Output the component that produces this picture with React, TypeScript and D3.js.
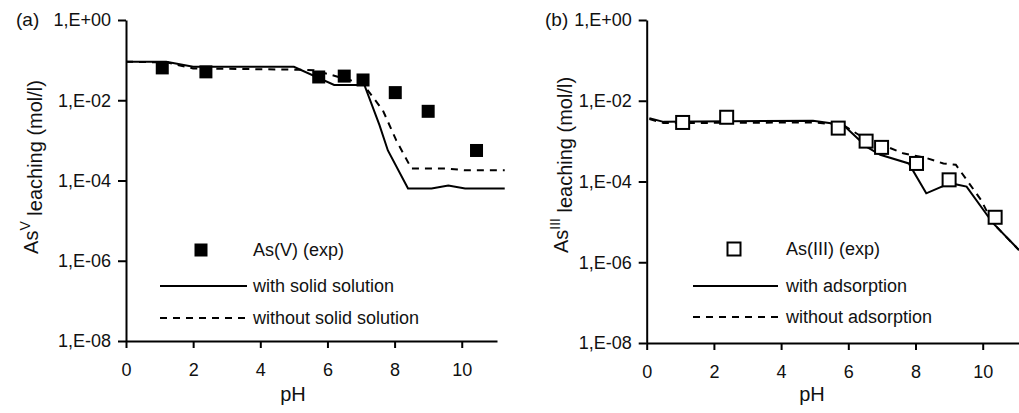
import { useEffect, useRef } from "react";
import * as d3 from "d3";

// panel (a) - As(V)
const phV_exp = [1.08, 2.38, 5.74, 6.5, 7.06, 8.02, 9.0, 10.44];
const asV_exp = [0.064, 0.051, 0.038, 0.04, 0.032, 0.0155, 0.0053, 5.6e-4];
const phV_with = [0, 1.2, 2.0, 5.0, 6.2, 7.1, 7.55, 7.8, 8.4, 9.1, 9.6, 10.1, 11.28];
const asV_with = [0.091, 0.091, 0.068, 0.068, 0.024, 0.024, 0.0024, 5.6e-4, 6.3e-5, 6.3e-5, 7.5e-5, 6.3e-5, 6.3e-5];
const phV_without = [0, 1.2, 2.0, 5.0, 5.6, 7.05, 7.65, 8.05, 8.5, 9.5, 10.1, 10.5, 11.28];
const asV_without = [0.091, 0.088, 0.062, 0.058, 0.056, 0.026, 0.0056, 0.001, 2e-4, 2e-4, 1.8e-4, 1.8e-4, 1.8e-4];

// panel (b) - As(III)
const phIII_exp = [1.07, 2.38, 5.7, 6.53, 6.99, 8.03, 9.0, 10.37];
const asIII_exp = [0.0029, 0.0039, 0.0021, 1.0e-3, 7.0e-4, 2.8e-4, 1.1e-4, 1.3e-5];
const phIII_with = [0.08, 0.5, 4.95, 5.85, 6.55, 6.95, 7.8, 8.32, 9.03, 9.52, 10.3, 11.08];
const asIII_with = [0.0037, 0.003, 0.0032, 0.0025, 7.2e-4, 4.6e-4, 2.8e-4, 5.1e-5, 9.1e-5, 7.5e-5, 9.4e-6, 2.0e-6];
const phIII_without = [0.08, 0.5, 4.95, 5.85, 6.55, 7.14, 7.63, 8.33, 8.83, 9.2, 9.95, 10.3, 11.08];
const asIII_without = [0.0035, 0.0028, 0.0029, 0.0025, 1.07e-3, 7.3e-4, 5e-4, 3.8e-4, 2.8e-4, 2.6e-4, 3.5e-5, 9.4e-6, 2.0e-6];

const yTicks = [1, 1e-2, 1e-4, 1e-6, 1e-8];
const yTickLabels = ["1,E+00", "1,E-02", "1,E-04", "1,E-06", "1,E-08"];
const xTicks = [0, 2, 4, 6, 8, 10];

const FONT = "'Liberation Sans', Arial, sans-serif";

const App = () => {
  const svgRef = useRef<SVGSVGElement>(null);

  useEffect(() => {
    const svg = d3.select(svgRef.current);
    svg.selectAll("*").remove();

    const panels = [
      {
        tag: "(a)", tagX: 16, sup: "V",
        x0: 126, x1: 497, xMax: 11.05, yTop: 20, yBot: 341,
        titleX: 38, titleY: 167, phX: 293,
        exp: [phV_exp, asV_exp], withL: [phV_with, asV_with], withoutL: [phV_without, asV_without],
        filled: true,
        leg: { sqX: 201, sqY: 250, lx0: 160, lx1: 247, tx: 253, y1: 286, y2: 318 },
        labels: ["As(V) (exp)", "with solid solution", "without solid solution"],
      },
      {
        tag: "(b)", tagX: 545, sup: "III",
        x0: 646.7, x1: 1019, xMax: 11.08, yTop: 20, yBot: 343,
        titleX: 568, titleY: 165, phX: 812,
        exp: [phIII_exp, asIII_exp], withL: [phIII_with, asIII_with], withoutL: [phIII_without, asIII_without],
        filled: false,
        leg: { sqX: 734, sqY: 249, lx0: 693, lx1: 778, tx: 786, y1: 286, y2: 317 },
        labels: ["As(III) (exp)", "with adsorption", "without adsorption"],
      },
    ];

    panels.forEach((p) => {
      const x = d3.scaleLinear().domain([0, p.xMax]).range([p.x0, p.x1]);
      const y = d3.scaleLog().domain([1e-8, 1]).range([p.yBot, p.yTop]);
      const g = svg.append("g");

      // y axis
      const ya = g.append("g")
        .attr("transform", `translate(${p.x0},0)`)
        .call(
          d3.axisLeft(y)
            .tickValues(yTicks)
            .tickFormat((d, i) => yTickLabels[i])
            .tickSize(8)
            .tickSizeOuter(0)
            .tickPadding(7)
        );
      // x axis
      const xa = g.append("g")
        .attr("transform", `translate(0,${p.yBot})`)
        .call(
          d3.axisBottom(x)
            .tickValues(xTicks)
            .tickSize(7)
            .tickSizeOuter(0)
            .tickPadding(15)
        );
      [ya, xa].forEach((a) => {
        a.selectAll("path, line").attr("stroke", "#000").attr("stroke-width", 2);
        a.selectAll("text")
          .attr("fill", "#111")
          .style("font-family", FONT)
          .style("font-size", "18px");
      });

      const line = d3.line<[number, number]>().x((d) => x(d[0])).y((d) => y(d[1]));
      const pts = (arr: number[][]) => arr[0].map((v, i) => [v, arr[1][i]] as [number, number]);

      g.append("path")
        .attr("d", line(pts(p.withoutL)))
        .attr("fill", "none").attr("stroke", "#000").attr("stroke-width", 2)
        .attr("stroke-dasharray", "7,6");
      g.append("path")
        .attr("d", line(pts(p.withL)))
        .attr("fill", "none").attr("stroke", "#000").attr("stroke-width", 2);

      const s = 13;
      g.selectAll("rect.exp")
        .data(pts(p.exp))
        .join("rect")
        .attr("class", "exp")
        .attr("x", (d) => x(d[0]) - s / 2)
        .attr("y", (d) => y(d[1]) - s / 2)
        .attr("width", s).attr("height", s)
        .attr("fill", p.filled ? "#000" : "#fff")
        .attr("stroke", "#000")
        .attr("stroke-width", p.filled ? 0 : 2);

      // legend
      const L = p.leg;
      g.append("rect")
        .attr("x", L.sqX - s / 2).attr("y", L.sqY - s / 2)
        .attr("width", s).attr("height", s)
        .attr("fill", p.filled ? "#000" : "#fff")
        .attr("stroke", "#000").attr("stroke-width", p.filled ? 0 : 2);
      g.append("line").attr("x1", L.lx0).attr("x2", L.lx1).attr("y1", L.y1).attr("y2", L.y1)
        .attr("stroke", "#000").attr("stroke-width", 2);
      g.append("line").attr("x1", L.lx0).attr("x2", L.lx1).attr("y1", L.y2).attr("y2", L.y2)
        .attr("stroke", "#000").attr("stroke-width", 2).attr("stroke-dasharray", "7,6");
      [L.sqY, L.y1, L.y2].forEach((ty, i) => {
        g.append("text")
          .attr("x", L.tx).attr("y", ty).attr("dy", "0.35em")
          .style("font-family", FONT).style("font-size", "18px")
          .attr("fill", "#111")
          .text(p.labels[i]);
      });

      // labels
      g.append("text")
        .attr("x", p.tagX).attr("y", 26)
        .style("font-family", FONT).style("font-size", "19px")
        .attr("fill", "#111")
        .text(p.tag);

      g.append("text")
        .attr("x", p.phX).attr("y", 401)
        .attr("text-anchor", "middle")
        .style("font-family", FONT).style("font-size", "20px")
        .attr("fill", "#111")
        .text("pH");

      const t = g.append("text")
        .attr("transform", `translate(${p.titleX},${p.titleY}) rotate(-90)`)
        .attr("text-anchor", "middle")
        .style("font-family", FONT).style("font-size", "20px")
        .attr("fill", "#111");
      t.append("tspan").text("As");
      t.append("tspan").attr("dy", "-0.6em").style("font-size", "14px").text(p.sup);
      t.append("tspan").attr("dy", "0.6em").text(" leaching (mol/l)");
    });
  }, []);

  return (
    <svg
      ref={svgRef}
      width={1019}
      height={413}
      style={{ position: "absolute", left: 0, top: 0, background: "#fff" }}
    />
  );
};

export default App;
